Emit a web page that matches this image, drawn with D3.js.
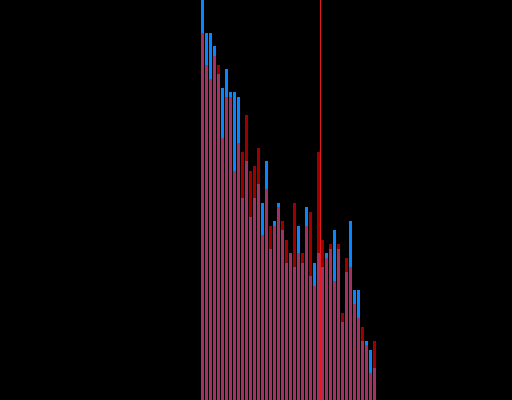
<!DOCTYPE html>
<html>
<head>
<meta charset="utf-8">
<script src="https://cdn.jsdelivr.net/npm/d3@7"></script>
<style>
  html, body { margin: 0; padding: 0; background: #000; }
  svg { display: block; }
</style>
</head>
<body>
<svg id="chart" width="512" height="400"></svg>
<script>
// Categories (bins)
const categories = d3.range(44).map(i => "b" + i);

// Series A (blue) values
const blueValues = [400, 367, 367, 354, 326, 312, 331, 308, 308, 303,
                    202, 239, 183, 202, 216, 197, 239, 151, 179, 197,
                    170, 137, 147, 133, 174, 137, 193, 124, 137, 147,
                    133, 147, 151, 170, 151, 78, 128, 179, 110, 110,
                    59, 59, 50, 32];

// Series B (red) values
const redValues  = [367, 335, 321, 344, 335, 262, 303, 303, 229, 257,
                    248, 285, 229, 234, 252, 165, 211, 174, 174, 193,
                    179, 160, 147, 197, 147, 147, 174, 188, 114, 248,
                    160, 142, 156, 119, 156, 87, 142, 133, 96, 82,
                    73, 55, 27, 59];

// Marker position (category boundary)
const markerCategory = "b30";

const width = 512, height = 400;
const svg = d3.select("#chart");
svg.append("rect").attr("width", width).attr("height", height).attr("fill", "#000");

const x = d3.scaleBand()
  .domain(categories)
  .range([200.5, 376.5])
  .paddingInner(0.25)
  .paddingOuter(0.125);

const y = d3.scaleLinear()
  .domain([0, 400])
  .range([height, 0]);

const data = categories.map((c, i) => ({ c, blue: blueValues[i], red: redValues[i] }));

svg.append("g").selectAll("rect")
  .data(data)
  .join("rect")
  .attr("x", d => x(d.c))
  .attr("width", x.bandwidth())
  .attr("y", d => y(d.blue))
  .attr("height", d => y(0) - y(d.blue))
  .attr("fill", "#0a84ff");

svg.append("g").selectAll("rect")
  .data(data)
  .join("rect")
  .attr("x", d => x(d.c))
  .attr("width", x.bandwidth())
  .attr("y", d => y(d.red))
  .attr("height", d => y(0) - y(d.red))
  .attr("fill", "#ff0000")
  .attr("fill-opacity", 0.62);

const mx = x(markerCategory) - x.step() * x.paddingInner() / 2;
svg.append("line")
  .attr("x1", mx).attr("x2", mx)
  .attr("y1", y(400)).attr("y2", y(0))
  .attr("stroke", "#e41a1c")
  .attr("stroke-width", 1);
</script>
</body>
</html>
